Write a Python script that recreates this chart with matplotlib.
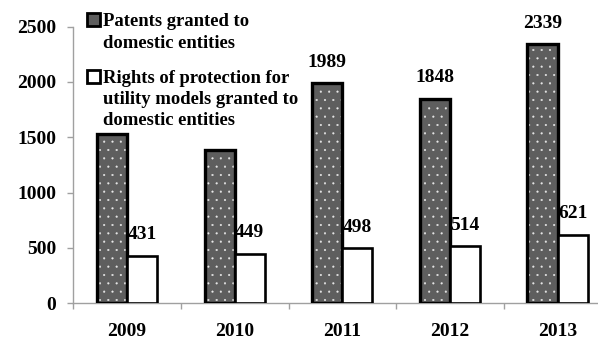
import matplotlib
matplotlib.use('Agg')
import matplotlib.pyplot as plt
from matplotlib.patches import Rectangle
import numpy as np

years = ['2009', '2010', '2011', '2012', '2013']
patents = [1530, 1386, 1989, 1848, 2339]
utility = [431, 449, 498, 514, 621]
# the first two patent bars carry no value label in the original
show_patent_label = [False, False, True, True, True]

legend_labels = ['Patents granted to\ndomestic entities',
                 'Rights of protection for\nutility models granted to\ndomestic entities']

plt.rcParams['font.family'] = ['Liberation Serif', 'DejaVu Serif']
plt.rcParams['font.weight'] = 'bold'
plt.rcParams['hatch.linewidth'] = 0.3

W, H = 598, 340
fig = plt.figure(figsize=(W / 100, H / 100), dpi=100)
ax = fig.add_axes([73.3 / W, 36.7 / H, 538 / W, 276.8 / H])

x = np.arange(len(years))
w = 0.28
grey = '#5e5e5e'

# patents: grey dotted face, then thick black outline on top
ax.bar(x - w / 2, patents, w, color=grey, edgecolor='#e8e8e8', linewidth=0,
       hatch='..', zorder=2)
ax.bar(x - w / 2, patents, w, fill=False, edgecolor='black', linewidth=2.4, zorder=3)
# utility models: white with black outline
ax.bar(x + w / 2, utility, w, color='white', edgecolor='black', linewidth=1.9, zorder=3)

for xi, v, show in zip(x, patents, show_patent_label):
    if show:
        ax.annotate(str(v), (xi - w / 2, v), xytext=(0, 9), textcoords='offset points',
                    ha='center', va='bottom', fontsize=14, fontweight='bold')
for xi, v in zip(x, utility):
    ax.annotate(str(v), (xi + w / 2, v), xytext=(0, 9), textcoords='offset points',
                ha='center', va='bottom', fontsize=14, fontweight='bold', zorder=5)

ax.set_xlim(-0.5, len(years) - 0.5)
ax.set_ylim(0, 2500)
ax.set_yticks(range(0, 2501, 500))
ax.set_xticks(x)
ax.set_xticklabels(years)
ax.set_xticks(np.arange(len(years) + 1) - 0.5, minor=True)

for s in ['top', 'right']:
    ax.spines[s].set_visible(False)
for s in ['left', 'bottom']:
    ax.spines[s].set_color('#a0a0a0')
    ax.spines[s].set_linewidth(1.0)

ax.tick_params(axis='y', length=4, width=1, color='#a0a0a0', pad=8.5, labelsize=14)
ax.tick_params(axis='x', which='major', length=0, pad=14.5, labelsize=14)
ax.tick_params(axis='x', which='minor', length=4, width=1, color='#a0a0a0')

# legend drawn by hand so the swatches line up with the first text line
sw = 13
fig.add_artist(Rectangle((87 / W, 1 - 26 / H), sw / W, sw / H, transform=fig.transFigure,
                         facecolor=grey, edgecolor='black', linewidth=2.0))
fig.add_artist(Rectangle((87 / W, 1 - 83 / H), sw / W, sw / H, transform=fig.transFigure,
                         facecolor='white', edgecolor='black', linewidth=2.0))
fig.text(103 / W, 1 - 13.5 / H, legend_labels[0], ha='left', va='top',
         fontsize=13.4, fontweight='bold', linespacing=1.32)
fig.text(103 / W, 1 - 70 / H, legend_labels[1], ha='left', va='top',
         fontsize=13.4, fontweight='bold', linespacing=1.32)

fig.savefig('out.png', dpi=100)
